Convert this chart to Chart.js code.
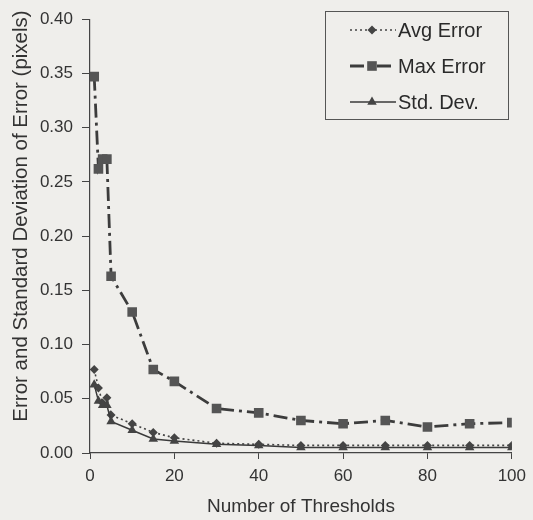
<!DOCTYPE html>
<html>
<head>
<meta charset="utf-8">
<script src="https://cdn.jsdelivr.net/npm/chart.js@4.4.1/dist/chart.umd.min.js"></script>
<style>
  html, body { margin: 0; padding: 0; background: #efeeeb; }
  #wrap { width: 533px; height: 520px; }
</style>
</head>
<body>
<div id="wrap"><canvas id="errChart" width="533" height="520"></canvas></div>
<script>
// values
const thresholds = [1, 2, 3, 4, 5, 10, 15, 20, 30, 40, 50, 60, 70, 80, 90, 100];
const avgError = [0.077, 0.060, 0.046, 0.051, 0.035, 0.027, 0.019, 0.014, 0.009, 0.008, 0.007, 0.007, 0.007, 0.007, 0.007, 0.007];
const maxError = [0.347, 0.262, 0.271, 0.271, 0.163, 0.130, 0.077, 0.066, 0.041, 0.037, 0.030, 0.027, 0.030, 0.024, 0.027, 0.028];
const stdDev = [0.063, 0.048, 0.044, 0.044, 0.029, 0.021, 0.013, 0.011, 0.008, 0.007, 0.005, 0.005, 0.005, 0.005, 0.005, 0.005];
const seriesNames = ['Avg Error', 'Max Error', 'Std. Dev.'];
const xTitle = 'Number of Thresholds';
const yTitle = 'Error and Standard Deviation of Error (pixels)';

const ink = '#333';
const FONT = "'Liberation Sans', Arial, sans-serif";

function pts(vals) {
    return thresholds.map((t, i) => ({ x: t, y: vals[i] }));
}

// paper background
const paperBg = {
    id: 'paperBg',
    beforeDraw(chart) {
        const c = chart.ctx;
        c.save();
        c.fillStyle = '#efeeeb';
        c.fillRect(0, 0, chart.width, chart.height);
        c.restore();
    }
};

// y title drawn by hand so it sits where the original one does
const yTitlePlugin = {
    id: 'yTitle',
    afterDraw(chart) {
        const c = chart.ctx;
        c.save();
        c.translate(21, 216);
        c.rotate(-Math.PI / 2);
        c.font = '20.5px ' + FONT;
        c.fillStyle = ink;
        c.textAlign = 'center';
        c.textBaseline = 'middle';
        c.fillText(yTitle, 0, 0);
        c.restore();
    }
};

function marker(c, style, x, y, r) {
    c.beginPath();
    if (style === 'rectRot') {
        c.moveTo(x, y - r); c.lineTo(x + r, y); c.lineTo(x, y + r); c.lineTo(x - r, y);
    } else if (style === 'rect') {
        const s = r * Math.SQRT1_2;
        c.rect(x - s, y - s, 2 * s, 2 * s);
    } else {
        c.moveTo(x, y - r); c.lineTo(x + r * 0.866, y + r * 0.5); c.lineTo(x - r * 0.866, y + r * 0.5);
    }
    c.closePath();
    c.fill();
}

// boxed legend in the top right corner of the plot
const boxLegend = {
    id: 'boxLegend',
    afterDraw(chart) {
        const c = chart.ctx;
        c.save();
        c.strokeStyle = '#555';
        c.lineWidth = 1;
        c.strokeRect(325.5, 11.5, 183, 108);
        const rows = [30, 66, 102];
        chart.data.datasets.forEach((ds, i) => {
            const y = rows[i];
            c.strokeStyle = ds.borderColor;
            c.lineWidth = ds.borderWidth;
            c.setLineDash(ds.borderDash || []);
            c.beginPath();
            c.moveTo(350, y);
            c.lineTo(396, y);
            c.stroke();
            c.setLineDash([]);
            c.fillStyle = ds.pointBackgroundColor;
            marker(c, ds.pointStyle, 372, y, ds.pointRadius);
            c.font = '20px ' + FONT;
            c.fillStyle = '#2a2a2a';
            c.textBaseline = 'middle';
            c.fillText(ds.label, 398, y + 1);
        });
        c.restore();
    }
};

const ctx = document.getElementById('errChart');
new Chart(ctx, {
    type: 'line',
    data: {
        datasets: [{
            label: seriesNames[0],
            data: pts(avgError),
            borderColor: '#444',
            borderWidth: 1.6,
            borderDash: [2, 3],
            pointStyle: 'rectRot',
            pointRadius: 4.5,
            pointBorderWidth: 0,
            pointBackgroundColor: '#444',
            order: 2
        }, {
            label: seriesNames[1],
            data: pts(maxError),
            borderColor: '#3c3c3c',
            borderWidth: 2.8,
            borderDash: [14, 5, 3, 5],
            pointStyle: 'rect',
            pointRadius: 6.8,
            pointBorderWidth: 0,
            pointBackgroundColor: '#555',
            order: 3
        }, {
            label: seriesNames[2],
            data: pts(stdDev),
            borderColor: '#3a3a3a',
            borderWidth: 1.5,
            pointStyle: 'triangle',
            pointRadius: 5.5,
            pointBorderWidth: 0,
            pointBackgroundColor: '#444',
            order: 1
        }]
    },
    options: {
        responsive: false,
        animation: false,
        layout: { padding: { left: 0, right: 21, top: 11, bottom: 0 } },
        plugins: {
            legend: { display: false },
            tooltip: { enabled: false }
        },
        elements: { line: { tension: 0 } },
        scales: {
            x: {
                type: 'linear',
                min: 0,
                max: 100,
                afterFit(scale) { scale.height = 67; },
                ticks: {
                    stepSize: 20,
                    color: ink,
                    padding: 7,
                    maxRotation: 0,
                    font: { family: FONT, size: 17 }
                },
                grid: { drawOnChartArea: false, tickLength: 6, color: '#444' },
                border: { color: '#444', width: 1.2 },
                title: {
                    display: true,
                    text: xTitle,
                    color: ink,
                    padding: { top: 0, bottom: 2 },
                    font: { family: FONT, size: 19 }
                }
            },
            y: {
                min: 0,
                max: 0.4,
                afterFit(scale) { scale.width = 90; },
                ticks: {
                    stepSize: 0.05,
                    color: ink,
                    padding: 9,
                    font: { family: FONT, size: 17 },
                    callback: v => v.toFixed(2)
                },
                grid: { drawOnChartArea: false, tickLength: 8, color: '#444' },
                border: { color: '#444', width: 1.2 }
            }
        }
    },
    plugins: [paperBg, yTitlePlugin, boxLegend]
});
</script>
</body>
</html>
